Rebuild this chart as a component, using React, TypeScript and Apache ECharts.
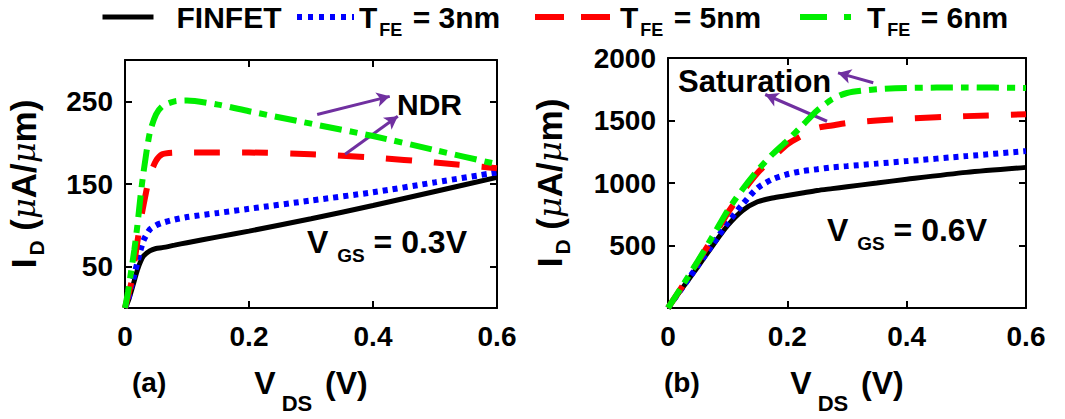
import React, { useEffect, useRef } from 'react';
import * as echarts from 'echarts';

// ---------- data ----------
const vdsA = [0, 0.005, 0.01, 0.015, 0.02, 0.025, 0.03, 0.04, 0.05, 0.06, 0.08, 0.1, 0.15, 0.2, 0.3, 0.4, 0.5, 0.6];
const finfetA = [0, 8, 20, 33, 46, 56, 63, 69, 72, 73, 76, 79, 86, 93, 108, 124, 141, 158];
const fe3A = [0, 10, 25, 40, 55, 70, 82, 95, 100, 103, 107, 110, 115, 120, 130, 140, 152, 164];
const fe5A = [0, 15, 30, 55, 80, 105, 125, 160, 178, 186, 188, 188, 188, 188, 186, 182, 176, 169];
const fe6A = [0, 20, 45, 70, 100, 135, 165, 212, 234, 244, 250, 251, 246, 238, 223, 208, 191, 174];

const vdsB = [0, 0.025, 0.05, 0.075, 0.1, 0.125, 0.15, 0.175, 0.2, 0.225, 0.25, 0.275, 0.3, 0.35, 0.4, 0.5, 0.6];
const finfetB = [0, 165, 330, 500, 660, 780, 850, 880, 900, 920, 940, 955, 970, 1000, 1030, 1085, 1125];
const fe3B = [0, 170, 340, 510, 680, 830, 960, 1030, 1070, 1095, 1110, 1125, 1135, 1155, 1175, 1215, 1255];
const fe5B = [0, 180, 370, 560, 760, 930, 1080, 1200, 1310, 1380, 1440, 1460, 1480, 1500, 1515, 1535, 1550];
const fe6B = [0, 185, 375, 575, 780, 950, 1100, 1230, 1340, 1460, 1580, 1670, 1720, 1750, 1760, 1765, 1760];

const xTicks = [0, 0.2, 0.4, 0.6];
const yTicksA = [50, 150, 250];
const yTicksB = [500, 1000, 1500, 2000];

const seriesNames = ['FINFET', 'TFE3', 'TFE5', 'TFE6'];
const legendLabels = ['FINFET', 'T{s|FE} = 3nm', 'T{s|FE} = 5nm', 'T{s|FE} = 6nm'];

// annotation arrows (data coordinates: [Vds, Id])
const ndrArrows = [
  [[0.31, 234], [0.427, 256]],
  [[0.355, 186], [0.44, 232]],
];
const satArrows = [
  [[0.344, 1802], [0.285, 1881]],
  [[0.2665, 1494], [0.163, 1708]],
];

// ---------- styles ----------
const FONT = "'Liberation Sans', Arial, sans-serif";
const MU_FONT = "'DejaVu Serif', 'Liberation Serif', serif";
const styles = [
  { color: '#000000', type: 'solid' as any, width: 5 },
  { color: '#0000FF', type: [5, 5] as any, width: 6 },
  { color: '#FF0000', type: [26, 22] as any, width: 6 },
  { color: '#00EE00', type: [22, 8, 8, 8] as any, width: 6 },
];
const legendDash = [
  'solid' as any,
  [5, 6] as any,
  [29, 17] as any,
  [27, 17, 7, 40] as any,
];

const pairs = (xs: number[], ys: number[]) => xs.map((x, i) => [x, ys[i]]);

const tickLabel = { color: '#000', fontFamily: FONT, fontWeight: 'bold' as const, fontSize: 28 };

function xAxisFor(grid: number, pos: 'bottom' | 'top', showName: boolean) {
  return {
    type: 'value',
    gridIndex: grid,
    position: pos,
    min: 0,
    max: 0.6,
    interval: 0.2,
    axisLine: { show: true, onZero: false, lineStyle: { color: '#000', width: 2 } },
    axisTick: { show: true, inside: true, length: 7, lineStyle: { color: '#000', width: 2 }, customValues: xTicks },
    splitLine: { show: false },
    axisLabel: pos === 'bottom'
      ? { ...tickLabel, margin: 14, customValues: xTicks, formatter: (v: number) => (v === 0 ? '0' : v.toFixed(1)) }
      : { show: false },
    name: showName ? '{b|V}{sub|DS}{b| (V)}' : '',
    nameLocation: 'middle',
    nameGap: 44,
    nameTextStyle: {
      color: '#000', fontFamily: FONT, fontWeight: 'bold', fontSize: 32,
      rich: {
        b: { color: '#000', fontFamily: FONT, fontWeight: 'bold', fontSize: 32 },
        sub: { color: '#000', fontFamily: FONT, fontWeight: 'bold', fontSize: 22, padding: [40, 4, 0, 6] },
      },
    },
  };
}

function yAxisFor(grid: number, pos: 'left' | 'right', max: number, ticks: number[], nameGap: number) {
  return {
    type: 'value',
    gridIndex: grid,
    position: pos,
    min: 0,
    max,
    axisLine: { show: true, onZero: false, lineStyle: { color: '#000', width: 2 } },
    axisTick: { show: true, inside: true, length: 7, lineStyle: { color: '#000', width: 2 }, customValues: ticks },
    splitLine: { show: false },
    axisLabel: pos === 'left'
      ? { ...tickLabel, margin: 12, customValues: ticks, formatter: (v: number) => String(v) }
      : { show: false },
    name: pos === 'left' ? '{b|I}{sub|D}{b| (}{mu|μ}{b|A/}{mu|μ}{b|m)}' : '',
    nameLocation: 'middle',
    nameRotate: 90,
    nameGap,
    nameTextStyle: {
      color: '#000', fontFamily: FONT, fontWeight: 'bold', fontSize: 35,
      rich: {
        b: { color: '#000', fontFamily: FONT, fontWeight: 'bold', fontSize: 35 },
        sub: { color: '#000', fontFamily: FONT, fontWeight: 'bold', fontSize: 21, padding: [26, 0, 0, 3] },
        mu: { color: '#000', fontFamily: MU_FONT, fontStyle: 'italic', fontWeight: 'normal', fontSize: 32 },
      },
    },
  };
}

function arrowMark(arrows: number[][][]) {
  return {
    silent: true,
    symbol: ['none', 'arrow'],
    symbolSize: [11, 13],
    label: { show: false },
    lineStyle: { color: '#7030A0', width: 3, type: 'solid' },
    data: arrows.map(([a, b]) => [{ coord: a }, { coord: b }]),
  };
}

const dataA = [finfetA, fe3A, fe5A, fe6A];
const dataB = [finfetB, fe3B, fe5B, fe6B];

function buildSeries() {
  const out: any[] = [];
  [0, 1].forEach((g) => {
    const xs = g === 0 ? vdsA : vdsB;
    const ds = g === 0 ? dataA : dataB;
    ds.forEach((ys, i) => {
      const s: any = {
        name: seriesNames[i],
        type: 'line',
        xAxisIndex: g * 2,
        yAxisIndex: g * 2,
        data: pairs(xs, ys),
        symbol: 'none',
        smooth: 0.25,
        z: 2 + i,
        lineStyle: { color: styles[i].color, width: styles[i].width, type: styles[i].type },
        itemStyle: { color: styles[i].color },
      };
      if (i === 0) s.markLine = arrowMark(g === 0 ? ndrArrows : satArrows);
      out.push(s);
    });
  });
  return out;
}

const legendPos = [
  { left: 95, width: 51 },
  { left: 289, width: 57 },
  { left: 527, width: 80 },
  { left: 792, width: 62 },
];

function buildLegends() {
  return seriesNames.map((n, i) => ({
    data: [n],
    left: legendPos[i].left,
    top: -3,
    itemWidth: legendPos[i].width,
    itemHeight: 20,
    selectedMode: false,
    itemStyle: { opacity: 0 },
    lineStyle: { color: styles[i].color, width: i === 0 ? 5 : 6, type: legendDash[i], opacity: 1 },
    formatter: () => legendLabels[i],
    textStyle: {
      color: '#000', fontFamily: FONT, fontWeight: 'bold', fontSize: 30,
      padding: i === 0 ? [0, 0, 0, 18] : 0,
      rich: {
        s: { color: '#000', fontFamily: FONT, fontWeight: 'bold', fontSize: 18, padding: [26, 2, 0, 2] },
      },
    },
  }));
}

const richV = {
  b: { color: '#000', fontFamily: FONT, fontWeight: 'bold', fontSize: 32 },
  s: { color: '#000', fontFamily: FONT, fontWeight: 'bold', fontSize: 19, padding: [26, 0, 0, 0] },
};

const option: any = {
  animation: false,
  backgroundColor: '#fff',
  grid: [
    { left: 125, top: 60, width: 372, height: 250, containLabel: false },
    { left: 668, top: 58, width: 358, height: 253, containLabel: false },
  ],
  legend: buildLegends(),
  xAxis: [xAxisFor(0, 'bottom', true), xAxisFor(0, 'top', false), xAxisFor(1, 'bottom', true), xAxisFor(1, 'top', false)],
  yAxis: [
    yAxisFor(0, 'left', 300, yTicksA, 78),
    yAxisFor(0, 'right', 300, yTicksA, 0),
    yAxisFor(1, 'left', 2000, yTicksB, 95),
    yAxisFor(1, 'right', 2000, yTicksB, 0),
  ],
  series: buildSeries(),
  graphic: [
    { type: 'text', left: 397, top: 89, style: { text: 'NDR', fill: '#000', font: `bold 30px ${FONT}` } },
    { type: 'text', left: 678, top: 66, style: { text: 'Saturation', fill: '#000', font: `bold 31px ${FONT}` } },
    { type: 'text', left: 307, top: 226, style: { text: '{b|V} {s|GS}{b| = 0.3V}', rich: richV, fill: '#000', font: `bold 32px ${FONT}` } },
    { type: 'text', left: 827, top: 214, style: { text: '{b|V} {s|GS}{b| = 0.6V}', rich: richV, fill: '#000', font: `bold 32px ${FONT}` } },
    { type: 'text', left: 132, top: 368, style: { text: '(a)', fill: '#000', font: `bold 28px ${FONT}` } },
    { type: 'text', left: 664, top: 368, style: { text: '(b)', fill: '#000', font: `bold 28px ${FONT}` } },
  ],
};

export default function App() {
  const ref = useRef<HTMLDivElement>(null);
  useEffect(() => {
    if (!ref.current) return;
    const chart = echarts.init(ref.current, null, { renderer: 'svg' });
    chart.setOption(option);
    return () => chart.dispose();
  }, []);
  return (
    <div
      ref={ref}
      style={{ position: 'absolute', left: 0, top: 0, width: 1065, height: 419, background: '#fff' }}
    />
  );
}
